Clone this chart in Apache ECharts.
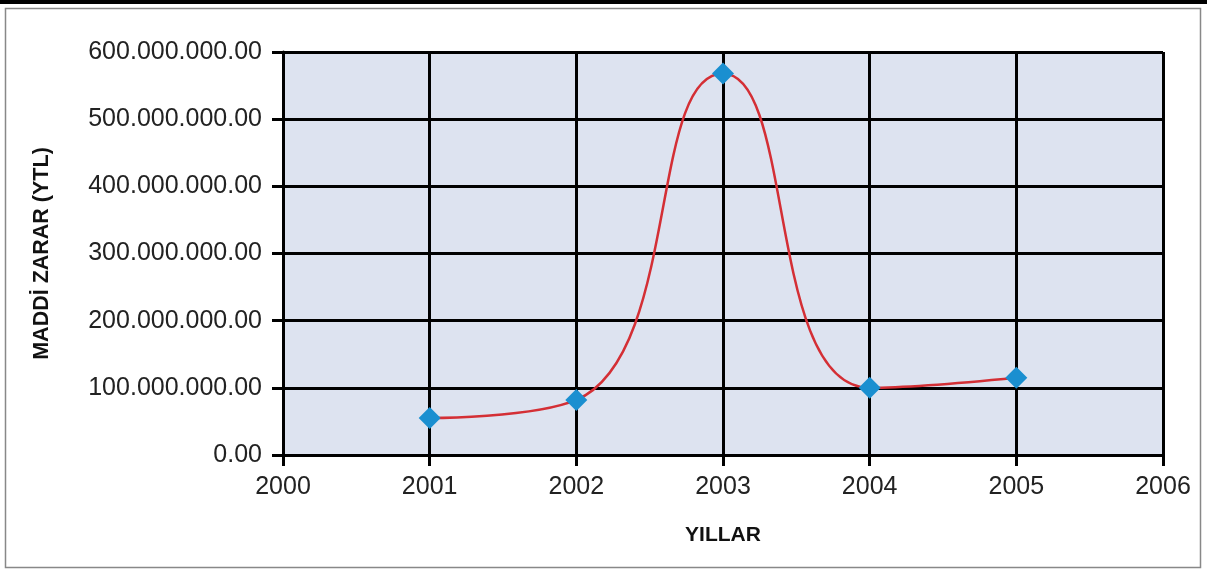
<!DOCTYPE html>
<html><head><meta charset="utf-8">
<script src="https://cdn.jsdelivr.net/npm/echarts@6/dist/echarts.min.js"></script>
<style>html,body{margin:0;padding:0;background:#fff}#c{width:1207px;height:574px}</style>
</head><body><div id="c"></div>
<script>
const years = [2001, 2002, 2003, 2004, 2005];
const values = [55000000, 82000000, 568000000, 100000000, 115000000];
const xLabelTitle = 'YILLAR';
const yLabelTitle = 'MADDİ ZARAR (YTL)';

function fmt(v){
  const s = Math.round(v).toString().replace(/\B(?=(\d{3})+(?!\d))/g, '.');
  return s + '.00';
}

const chart = echarts.init(document.getElementById('c'), null, {renderer:'canvas'});
chart.setOption({
  animation:false,
  backgroundColor:'#fff',
  graphic:[
    {type:'rect', shape:{x:0,y:0,width:1207,height:4}, style:{fill:'#000'}, z:-1},
    {type:'rect', shape:{x:5.5,y:8.5,width:1195,height:559}, style:{fill:'none', stroke:'#888', lineWidth:1.5}, z:-1}
  ],
  grid:{left:283, right:44, top:52, bottom:119, show:true, backgroundColor:'#dde3f0', borderWidth:0},
  xAxis:{
    type:'value', min:2000, max:2006, interval:1,
    name:xLabelTitle, nameLocation:'middle', nameGap:70,
    nameTextStyle:{fontFamily:'Liberation Sans, Arial', fontSize:21, fontWeight:'bold', color:'#111'},
    axisLine:{show:true, lineStyle:{color:'#000', width:3}},
    axisTick:{show:true, length:11, lineStyle:{color:'#000', width:3}},
    axisLabel:{fontFamily:'Liberation Sans, Arial', fontSize:25, color:'#222', margin:20, formatter:v=>String(v)},
    splitLine:{show:true, lineStyle:{color:'#000', width:3}}
  },
  yAxis:{
    type:'value', min:0, max:600000000, interval:100000000,
    name:yLabelTitle, nameLocation:'middle', nameGap:230, nameRotate:90,
    nameTextStyle:{fontFamily:'Liberation Sans, Arial', fontSize:21.5, fontWeight:'bold', color:'#111'},
    axisLine:{show:true, lineStyle:{color:'#000', width:3}},
    axisTick:{show:true, length:11, lineStyle:{color:'#000', width:3}},
    axisLabel:{fontFamily:'Liberation Sans, Arial', fontSize:25, color:'#222', margin:21, formatter:fmt},
    splitLine:{show:true, lineStyle:{color:'#000', width:3}}
  },
  series:[{
    type:'line',
    data: years.map((y,i)=>[y, values[i]]),
    smooth:0.5,
    lineStyle:{color:'#d42f35', width:2.5},
    itemStyle:{color:'#1a8fd0'},
    symbol:'diamond', symbolSize:22,
    z:5
  }]
});
</script></body></html>
